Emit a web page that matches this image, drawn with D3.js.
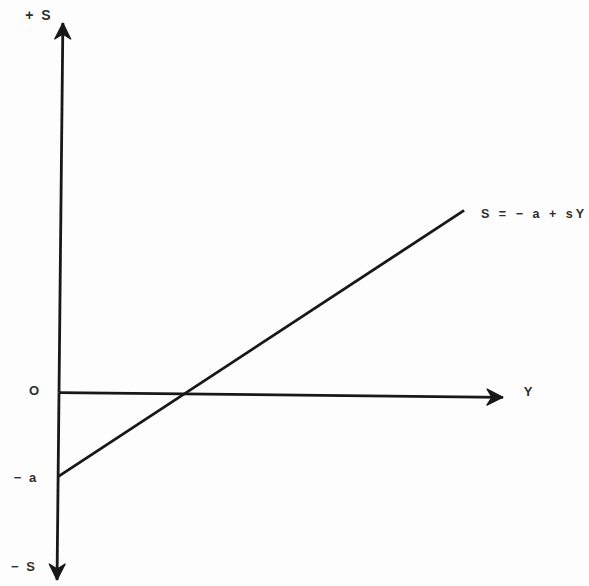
<!DOCTYPE html>
<html>
<head>
<meta charset="utf-8">
<script src="https://cdn.jsdelivr.net/npm/d3@7"></script>
<style>
  html, body { margin: 0; padding: 0; background: #fdfdfd; }
  svg { display: block; }
  text { font-family: "Liberation Sans", Arial, sans-serif; font-weight: bold; fill: #2e2e2e; }
</style>
</head>
<body>
<div id="chart"></div>
<script>
// Saving function S = -a + sY, drawn in income (Y) / saving (S) space
const a = 1;            // autonomous dissaving
const s = 0.67;         // marginal propensity to save
const incomeRange = [0, 5.286];     // extent of the Y axis
const savingRange = [-2.23, 4.4];   // extent of the S axis (-S .. +S)
const savingLineY = [0, 4.8];       // income at the two ends of the saving line
const savingLineS = [-1, 2.22];     // saving at those incomes
const axisLabels = ["+ S", "O", "− a", "− S", "Y"];
const curveLabel = "S = − a + sY";

const W = 589, H = 586;
const svg = d3.select("#chart").append("svg").attr("width", W).attr("height", H);

const x = d3.scaleLinear().domain(incomeRange).range([59, 503]);
const y = d3.scaleLinear().domain(savingRange).range([580, 23]);

const ink = "#181818";

// arrowhead
const defs = svg.append("defs");
defs.append("marker")
  .attr("id", "arrow")
  .attr("viewBox", "-18 -9 20 18")
  .attr("refX", 0).attr("refY", 0)
  .attr("markerUnits", "userSpaceOnUse")
  .attr("markerWidth", 20).attr("markerHeight", 18)
  .attr("orient", "auto")
  .append("path")
  .attr("d", "M0,0 L-16,-8 L-11,0 L-16,8 Z")
  .attr("fill", ink)
  .attr("stroke", ink).attr("stroke-width", 1.2).attr("stroke-linejoin", "round");

// the whole diagram sits at a slight tilt
const g = svg.append("g")
  .attr("transform", `rotate(0.6, ${x(0)}, ${y(0)})`);

// vertical S axis, arrows both ways
g.append("line")
  .attr("x1", x(0)).attr("x2", x(0))
  .attr("y1", y(0)).attr("y2", y(savingRange[1]))
  .attr("stroke", ink).attr("stroke-width", 2.8)
  .attr("marker-end", "url(#arrow)");
g.append("line")
  .attr("x1", x(0)).attr("x2", x(0))
  .attr("y1", y(0)).attr("y2", y(savingRange[0]))
  .attr("stroke", ink).attr("stroke-width", 2.8)
  .attr("marker-end", "url(#arrow)");

// horizontal Y axis
g.append("line")
  .attr("x1", x(0)).attr("x2", x(incomeRange[1]))
  .attr("y1", y(0)).attr("y2", y(0))
  .attr("stroke", ink).attr("stroke-width", 2.8)
  .attr("marker-end", "url(#arrow)");

// saving function
const line = d3.line().x(d => x(d[0])).y(d => y(d[1]));
g.append("path")
  .datum(d3.zip(savingLineY, savingLineS))
  .attr("d", line)
  .attr("fill", "none")
  .attr("stroke", ink).attr("stroke-width", 2.8);

// labels
const lab = svg.append("g").attr("font-size", 13);
lab.append("text").attr("x", 39).attr("y", y(savingRange[1]) - 3)
  .attr("font-size", 14)
  .attr("text-anchor", "middle").attr("letter-spacing", 2).text(axisLabels[0]);
lab.append("text").attr("x", 34).attr("y", y(0) - 1)
  .attr("text-anchor", "middle").attr("dominant-baseline", "middle").text(axisLabels[1]);
lab.append("text").attr("x", 26).attr("y", y(-a) + 2)
  .attr("text-anchor", "middle").attr("dominant-baseline", "middle")
  .attr("letter-spacing", 2).text(axisLabels[2]);
lab.append("text").attr("x", 24).attr("y", y(savingRange[0]) - 12)
  .attr("text-anchor", "middle").attr("dominant-baseline", "middle")
  .attr("letter-spacing", 2).text(axisLabels[3]);
lab.append("text").attr("x", x(incomeRange[1]) + 25).attr("y", y(0))
  .attr("text-anchor", "middle").attr("dominant-baseline", "middle").text(axisLabels[4]);
lab.append("text").attr("x", 481).attr("y", y(savingLineS[1]) + 9)
  .attr("font-size", 12.5)
  .attr("textLength", 103).attr("lengthAdjust", "spacing")
  .attr("dominant-baseline", "middle").text(curveLabel);
</script>
</body>
</html>
